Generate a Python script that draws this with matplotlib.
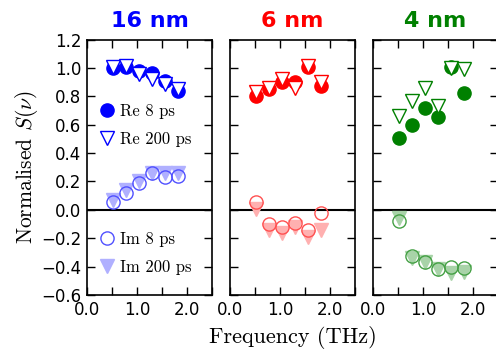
import matplotlib
matplotlib.use("Agg")
import matplotlib.pyplot as plt

plt.rcParams['mathtext.fontset'] = 'cm'
plt.rcParams['axes.unicode_minus'] = True

# frequencies (THz), same for every panel
freq = [0.52, 0.78, 1.04, 1.30, 1.56, 1.82]

titles = ["16 nm", "6 nm", "4 nm"]
main_colors = ["#0000ff", "#ff0000", "#008000"]
im_colors = ["#5050ff", "#ff5050", "#44a044"]
pale_colors = ["#b0b0ff", "#ffb0b0", "#a8d3a8"]

re_8ps = [
    [1.00, 1.005, 0.975, 0.965, 0.91, 0.84],
    [0.80, 0.85, 0.90, 0.90, 1.005, 0.875],
    [0.505, 0.595, 0.715, 0.655, 1.005, 0.825],
]
re_200ps = [
    [1.005, 1.01, 0.96, 0.92, 0.89, 0.85],
    [0.83, 0.86, 0.92, 0.86, 1.01, 0.90],
    [0.66, 0.765, 0.855, 0.73, 1.0, 0.99],
]
im_8ps = [
    [0.055, 0.12, 0.19, 0.26, 0.23, 0.24],
    [0.055, -0.10, -0.12, -0.09, -0.14, -0.02],
    [-0.08, -0.325, -0.37, -0.42, -0.40, -0.41],
]
im_200ps = [
    [0.07, 0.14, 0.20, 0.26, 0.26, 0.26],
    [0.005, -0.145, -0.16, -0.12, -0.19, -0.14],
    [-0.06, -0.34, -0.37, -0.42, -0.445, -0.44],
]

fig = plt.figure(figsize=(4.96, 3.55), dpi=100)
left, width, gap = 0.1754, 0.252, 0.0363
bottom, height = 0.169, 0.7197

ms = 9.5
leg_kw = dict(loc='center left', frameon=False, handlelength=1.0,
              handletextpad=0.3, labelspacing=0.75, numpoints=1,
              prop={'family': 'cmr10', 'size': 12})
for i in range(3):
    ax = fig.add_axes([left + i * (width + gap), bottom, width, height])
    c, ci, cp = main_colors[i], im_colors[i], pale_colors[i]
    ax.axhline(0, color='black', lw=1.5, zorder=1)
    h1, = ax.plot(freq, re_8ps[i], 'o', ms=ms, color=c, mec=c, label='Re 8 ps', zorder=3)
    h2, = ax.plot(freq, re_200ps[i], 'v', ms=ms, mfc='white', mec=c, mew=1.0,
                  label='Re 200 ps', zorder=4)
    h4, = ax.plot(freq, im_200ps[i], 'v', ms=ms, color=cp, mec=cp,
                  label='Im 200 ps', zorder=3)
    h3, = ax.plot(freq, im_8ps[i], 'o', ms=ms, mfc='none', mec=ci, mew=1.0,
                  label='Im 8 ps', zorder=4)

    ax.set_xlim(0, 2.5)
    ax.set_ylim(-0.6, 1.2)
    ax.set_xticks([0, 0.5, 1.0, 1.5, 2.0, 2.5])
    ax.set_xticklabels(['0.0', '', '1.0', '', '2.0', ''])
    ax.set_yticks([-0.6, -0.4, -0.2, 0.0, 0.2, 0.4, 0.6, 0.8, 1.0, 1.2])
    ax.tick_params(direction='in', top=True, right=True, length=6, width=1,
                   labelsize=12, pad=4)
    for sp in ax.spines.values():
        sp.set_linewidth(1.2)
    if i == 0:
        ax.set_ylabel(r'Normalised $S(\nu)$', fontsize=15.5, fontfamily='cmr10',
                      labelpad=1)
        leg1 = ax.legend(handles=[h1, h2], bbox_to_anchor=(-0.03, 0.664), **leg_kw)
        ax.add_artist(leg1)
        ax.legend(handles=[h3, h4], bbox_to_anchor=(-0.03, 0.164), **leg_kw)
    else:
        ax.set_yticklabels([])
    if i == 1:
        ax.set_xlabel('Frequency (THz)', fontsize=16, fontfamily='cmr10', labelpad=5)
    ax.set_title(titles[i], color=c, fontsize=16, fontweight='bold', pad=9)

fig.savefig('out.png', dpi=100)
